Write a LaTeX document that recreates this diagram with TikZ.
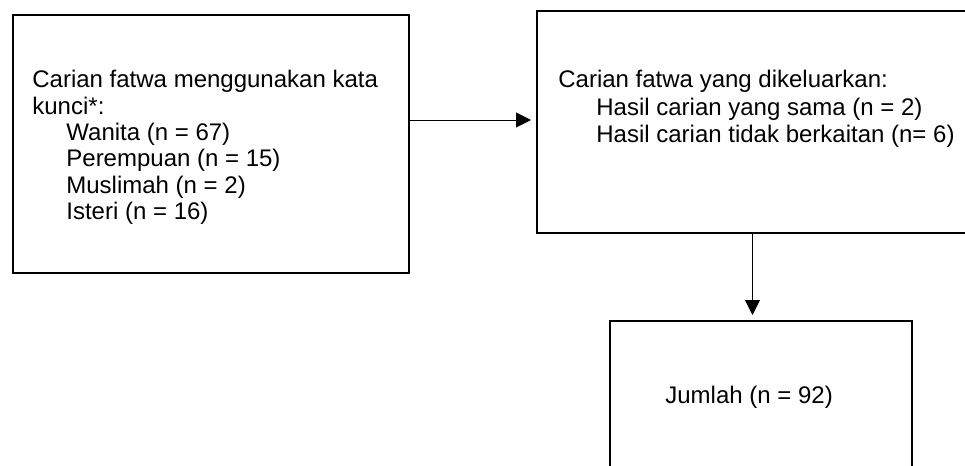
\documentclass[tikz,border=0pt]{standalone}
\usepackage{fontspec}
\setmainfont{Liberation Sans}
\usepackage{tikz}
\usetikzlibrary{arrows.meta}

\begin{document}
\begin{tikzpicture}[x=0.5pt,y=-0.5pt]
        \tikzstyle{every node}+=[inner sep=0pt, font=\fontsize{12pt}{13.2pt}\selectfont]
        \tikzstyle{box}=[draw=black, line width=1pt, anchor=north west]
        \tikzstyle{txt}=[align=left, anchor=north west]
        \tikzstyle{link}=[black, line width=0.5pt, -{Triangle[length=7.5pt,width=7.5pt]}, shorten >=2.5pt]
        \clip (0,0) rectangle (965,466);
        \node [box, minimum width=198pt, minimum height=129pt] (search) at (12,14) {};
        \node [txt] (searchtext) at (32,70) {Carian fatwa menggunakan kata\\kunci*:\\\hspace*{17pt}Wanita (n = 67)\\\hspace*{17pt}Perempuan (n = 15)\\\hspace*{17pt}Muslimah (n = 2)\\\hspace*{17pt}Isteri (n = 16)};
        \node [box, minimum width=215.5pt, minimum height=111pt] (excluded) at (536,10) {};
        \node [txt, font=\fontsize{12pt}{13.7pt}\selectfont] (excludedtext) at (558,70) {Carian fatwa yang dikeluarkan:\\\hspace*{19pt}Hasil carian yang sama (n = 2)\\\hspace*{19pt}Hasil carian tidak berkaitan (n= 6)};
        \node [box, minimum width=151pt, minimum height=90pt] (total) at (609,320) {};
        \node [anchor=base west] (totaltext) at (665,403) {Jumlah (n = 92)};
        \draw [link] ([yshift=1pt]excluded.west -| search.east) -- ([yshift=1pt]excluded.west);
        \draw [link] (excluded.south) -- (excluded.south |- total.north);
\end{tikzpicture}
\end{document}
